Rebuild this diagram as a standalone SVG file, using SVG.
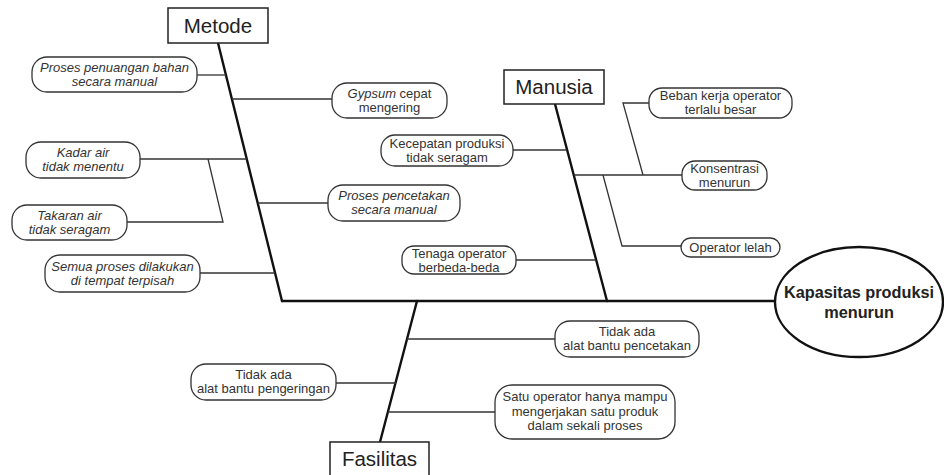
<svg xmlns="http://www.w3.org/2000/svg" width="944" height="475" viewBox="0 0 944 475">
<style>
.bg{fill:#fff}
.spine{stroke:#111;stroke-width:2.4;fill:none;stroke-linecap:round}
.br{stroke:#333;stroke-width:1.3;fill:none}
.pill{fill:#fff;stroke:#333;stroke-width:1.3}
.box{fill:#fff;stroke:#222;stroke-width:1.5}
.t{font-family:"Liberation Sans",Arial,sans-serif;font-size:13px;fill:#333;text-anchor:middle}
.i{font-style:italic}
.h{font-family:"Liberation Sans",Arial,sans-serif;font-size:20.5px;fill:#222;text-anchor:middle}
.k{font-family:"Liberation Sans",Arial,sans-serif;font-size:16.3px;font-weight:bold;fill:#222;text-anchor:middle}
</style>
<rect class="bg" x="0" y="0" width="944" height="475"/>
<g id="connectors">
  <line class="spine" x1="218" y1="43" x2="282" y2="301"/>
  <line class="spine" x1="282" y1="301" x2="775" y2="301"/>
  <line class="spine" x1="555" y1="104" x2="607" y2="301"/>
  <line class="spine" x1="417" y1="301" x2="380" y2="442"/>
  <line class="br" x1="197" y1="75" x2="226" y2="75"/>
  <line class="br" x1="232" y1="99" x2="332" y2="99"/>
  <line class="br" x1="140" y1="159" x2="247" y2="159"/>
  <polyline class="br" points="208,159 223,222 127,222"/>
  <line class="br" x1="258" y1="203" x2="328" y2="203"/>
  <line class="br" x1="200" y1="273" x2="275" y2="273"/>
  <line class="br" x1="513" y1="150" x2="567" y2="150"/>
  <line class="br" x1="574" y1="175" x2="682" y2="175"/>
  <polyline class="br" points="649,103 623,103 643,175"/>
  <polyline class="br" points="603,175 622,246 681,246"/>
  <line class="br" x1="516" y1="260" x2="596" y2="260"/>
  <line class="br" x1="407" y1="339" x2="555" y2="339"/>
  <line class="br" x1="336" y1="383" x2="396" y2="383"/>
  <line class="br" x1="388" y1="412" x2="495" y2="412"/>
</g>
<g id="effect">
  <ellipse cx="859" cy="302" rx="84" ry="55" fill="#fff" stroke="#111" stroke-width="2.4"/>
  <text class="k" x="859" y="298">Kapasitas produksi</text>
  <text class="k" x="859" y="318">menurun</text>
</g>
<g id="metode">
  <rect class="box" x="168" y="8" width="100" height="35"/>
  <text class="h" x="218" y="33">Metode</text>
</g>
<g id="manusia">
  <rect class="box" x="504" y="70" width="100" height="34"/>
  <text class="h" x="554" y="94">Manusia</text>
</g>
<g id="fasilitas">
  <rect class="box" x="330" y="442" width="99" height="35"/>
  <text class="h" x="379.5" y="466">Fasilitas</text>
</g>
<g id="proses-penuangan">
  <rect class="pill" x="32" y="57" width="165" height="35" rx="15"/>
  <text class="t i" x="114.5" y="71.5">Proses penuangan bahan</text>
  <text class="t i" x="114.5" y="85.5">secara manual</text>
</g>
<g id="gypsum">
  <rect class="pill" x="332" y="83" width="115" height="35" rx="15"/>
  <text class="t" x="389.5" y="97.5"><tspan class="i">Gypsum</tspan> cepat</text>
  <text class="t" x="389.5" y="111.5">mengering</text>
</g>
<g id="kadar-air">
  <rect class="pill" x="26" y="142" width="114" height="36" rx="15"/>
  <text class="t i" x="83" y="157">Kadar air</text>
  <text class="t i" x="83" y="171">tidak menentu</text>
</g>
<g id="takaran-air">
  <rect class="pill" x="12" y="205" width="115" height="35" rx="15"/>
  <text class="t i" x="69.5" y="219.5">Takaran air</text>
  <text class="t i" x="69.5" y="233.5">tidak seragam</text>
</g>
<g id="proses-pencetakan">
  <rect class="pill" x="328" y="185" width="132" height="36" rx="15"/>
  <text class="t i" x="394" y="200">Proses pencetakan</text>
  <text class="t i" x="394" y="214">secara manual</text>
</g>
<g id="semua-proses">
  <rect class="pill" x="45" y="255" width="155" height="37" rx="15"/>
  <text class="t i" x="122.5" y="270.5">Semua proses dilakukan</text>
  <text class="t i" x="122.5" y="284.5">di tempat terpisah</text>
</g>
<g id="kecepatan">
  <rect class="pill" x="381" y="135" width="132" height="31" rx="14"/>
  <text class="t" x="447" y="147.5">Kecepatan produksi</text>
  <text class="t" x="447" y="161.5">tidak seragam</text>
</g>
<g id="tenaga">
  <rect class="pill" x="402" y="246" width="114" height="28" rx="12"/>
  <text class="t" x="459" y="257.5">Tenaga operator</text>
  <text class="t" x="459" y="271.5">berbeda-beda</text>
</g>
<g id="beban">
  <rect class="pill" x="649" y="88" width="143" height="30" rx="13"/>
  <text class="t" x="720.5" y="100">Beban kerja operator</text>
  <text class="t" x="720.5" y="114">terlalu besar</text>
</g>
<g id="konsentrasi">
  <rect class="pill" x="682" y="161" width="85" height="29" rx="13"/>
  <text class="t" x="724.5" y="173">Konsentrasi</text>
  <text class="t" x="724.5" y="187">menurun</text>
</g>
<g id="operator-lelah">
  <rect class="pill" x="681" y="238" width="99" height="19" rx="9.5"/>
  <text class="t" x="730.5" y="252">Operator lelah</text>
</g>
<g id="alat-pencetakan">
  <rect class="pill" x="555" y="321" width="144" height="36" rx="15"/>
  <text class="t" x="627" y="336">Tidak ada</text>
  <text class="t" x="627" y="350">alat bantu pencetakan</text>
</g>
<g id="alat-pengeringan">
  <rect class="pill" x="191" y="364" width="145" height="36" rx="15"/>
  <text class="t" x="263.5" y="379">Tidak ada</text>
  <text class="t" x="263.5" y="393">alat bantu pengeringan</text>
</g>
<g id="satu-operator">
  <rect class="pill" x="495" y="385" width="180" height="54" rx="17"/>
  <text class="t" x="585" y="401">Satu operator hanya mampu</text>
  <text class="t" x="585" y="415.5">mengerjakan satu produk</text>
  <text class="t" x="585" y="430">dalam sekali proses</text>
</g>
</svg>
